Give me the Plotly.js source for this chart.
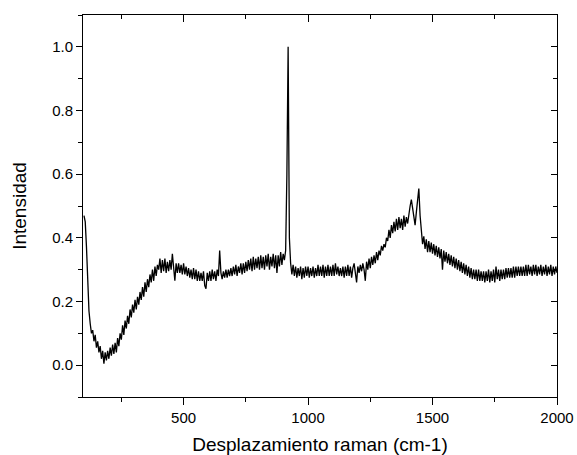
<!DOCTYPE html>
<html>
<head>
<meta charset="utf-8">
<script src="https://cdn.plot.ly/plotly-3.0.1.min.js"></script>
<style>html,body{margin:0;padding:0;background:#fff;}#chart{width:577px;height:455px;}</style>
</head>
<body>
<div id="chart"></div>
<script>
// Raman shift grid: starts at 100 cm-1, one reading every 5 cm-1 up to 2000 cm-1
const X_START = 100;
const X_STEP = 5;

// Intensity readings (normalised), 100 .. 2000 cm-1
const intensity = [
  // 100-195
  0.47, 0.45, 0.37, 0.26, 0.17, 0.13, 0.10, 0.11, 0.075, 0.095, 0.055, 0.075, 0.04, 0.06, 0.02, 0.045, 0.005, 0.04, 0.015, 0.045,
  // 200-295
  0.02, 0.055, 0.03, 0.065, 0.035, 0.07, 0.04, 0.085, 0.06, 0.10, 0.08, 0.125, 0.095, 0.14, 0.115, 0.155, 0.13, 0.175, 0.15, 0.19,
  // 300-395
  0.165, 0.205, 0.175, 0.215, 0.19, 0.23, 0.205, 0.245, 0.215, 0.26, 0.23, 0.27, 0.245, 0.285, 0.26, 0.30, 0.265, 0.31, 0.28, 0.315,
  // 400-495
  0.30, 0.335, 0.29, 0.33, 0.295, 0.335, 0.29, 0.325, 0.295, 0.33, 0.30, 0.35, 0.29, 0.265, 0.32, 0.29, 0.32, 0.29, 0.315, 0.285,
  // 500-595
  0.32, 0.285, 0.31, 0.28, 0.305, 0.275, 0.30, 0.27, 0.305, 0.27, 0.30, 0.265, 0.295, 0.265, 0.29, 0.265, 0.295, 0.25, 0.24, 0.29,
  // 600-695
  0.265, 0.295, 0.265, 0.30, 0.27, 0.295, 0.265, 0.30, 0.28, 0.36, 0.29, 0.27, 0.295, 0.275, 0.30, 0.275, 0.30, 0.28, 0.305, 0.28,
  // 700-795
  0.31, 0.285, 0.315, 0.28, 0.31, 0.29, 0.32, 0.285, 0.32, 0.29, 0.325, 0.295, 0.33, 0.30, 0.335, 0.295, 0.34, 0.30, 0.335, 0.305,
  // 800-895
  0.34, 0.30, 0.345, 0.305, 0.34, 0.30, 0.345, 0.31, 0.35, 0.30, 0.34, 0.31, 0.35, 0.305, 0.345, 0.29, 0.345, 0.31, 0.355, 0.315,
  // 900-995
  0.35, 0.33, 0.36, 0.60, 1.00, 0.40, 0.32, 0.285, 0.315, 0.28, 0.31, 0.275, 0.305, 0.28, 0.31, 0.27, 0.305, 0.275, 0.31, 0.28,
  // 1000-1095
  0.31, 0.275, 0.305, 0.28, 0.31, 0.275, 0.305, 0.28, 0.315, 0.28, 0.31, 0.28, 0.315, 0.275, 0.31, 0.28, 0.315, 0.28, 0.31, 0.28,
  // 1100-1195
  0.315, 0.28, 0.32, 0.285, 0.31, 0.28, 0.305, 0.28, 0.31, 0.275, 0.31, 0.28, 0.315, 0.28, 0.31, 0.275, 0.305, 0.32, 0.29, 0.26,
  // 1200-1295
  0.31, 0.29, 0.315, 0.295, 0.32, 0.30, 0.265, 0.325, 0.30, 0.335, 0.305, 0.34, 0.315, 0.345, 0.32, 0.355, 0.33, 0.36, 0.345, 0.375,
  // 1300-1395
  0.36, 0.38, 0.37, 0.40, 0.39, 0.425, 0.40, 0.44, 0.415, 0.45, 0.42, 0.46, 0.425, 0.465, 0.43, 0.46, 0.425, 0.47, 0.435, 0.465,
  // 1400-1495
  0.445, 0.48, 0.50, 0.52, 0.49, 0.46, 0.44, 0.48, 0.53, 0.555, 0.47, 0.41, 0.38, 0.405, 0.365, 0.395, 0.355, 0.39, 0.355, 0.385,
  // 1500-1595
  0.35, 0.38, 0.345, 0.375, 0.34, 0.37, 0.335, 0.365, 0.30, 0.36, 0.325, 0.355, 0.32, 0.35, 0.315, 0.345, 0.31, 0.34, 0.305, 0.335,
  // 1600-1695
  0.30, 0.33, 0.295, 0.325, 0.29, 0.32, 0.285, 0.315, 0.28, 0.31, 0.275, 0.305, 0.27, 0.30, 0.27, 0.30, 0.265, 0.30, 0.265, 0.295,
  // 1700-1795
  0.265, 0.295, 0.26, 0.295, 0.265, 0.30, 0.26, 0.295, 0.265, 0.30, 0.26, 0.31, 0.27, 0.30, 0.265, 0.30, 0.27, 0.30, 0.27, 0.305,
  // 1800-1895
  0.275, 0.305, 0.275, 0.305, 0.275, 0.31, 0.275, 0.31, 0.28, 0.31, 0.28, 0.31, 0.28, 0.31, 0.28, 0.315, 0.28, 0.315, 0.285, 0.31,
  // 1900-2000
  0.28, 0.315, 0.285, 0.315, 0.28, 0.31, 0.285, 0.315, 0.28, 0.31, 0.285, 0.315, 0.28, 0.31, 0.285, 0.315, 0.28, 0.31, 0.285, 0.31, 0.29
];

const xTitle = 'Desplazamiento raman (cm-1)';
const yTitle = 'Intensidad';
const xTicks = [500, 1000, 1500, 2000];
const yTicks = [0.0, 0.2, 0.4, 0.6, 0.8, 1.0];
const xRange = [96, 2000];
const yRange = [-0.1, 1.1];

const font = 'Arial, "Liberation Sans", sans-serif';

const traces = [
  {
    type: 'scatter', mode: 'lines',
    x0: X_START, dx: X_STEP, y: intensity,
    line: {color: '#000', width: 1.3},
    hoverinfo: 'skip'
  },
  {
    type: 'scatter', mode: 'lines', x: [], y: [],
    xaxis: 'x2', yaxis: 'y2', showlegend: false, hoverinfo: 'skip'
  }
];

const axCommon = {
  showgrid: false, zeroline: false,
  showline: true, linecolor: '#000', linewidth: 1,
  tickcolor: '#000', tickwidth: 1,
  tickfont: {family: font, size: 15, color: '#000'}
};

const layout = {
  width: 577, height: 455,
  margin: {l: 83, r: 20, t: 15, b: 58},
  paper_bgcolor: '#fff', plot_bgcolor: '#fff',
  showlegend: false,
  font: {family: font, color: '#000'},
  xaxis: Object.assign({}, axCommon, {
    range: xRange,
    tickmode: 'array', tickvals: xTicks,
    ticks: 'outside', ticklen: 7,
    minor: {dtick: 250, tick0: 0, ticks: 'outside', ticklen: 4, tickcolor: '#000', showgrid: false},
    title: {text: xTitle, font: {family: font, size: 19, color: '#000'}, standoff: 12}
  }),
  yaxis: Object.assign({}, axCommon, {
    range: yRange,
    tickmode: 'array', tickvals: yTicks, tickformat: '.1f',
    ticks: 'outside', ticklen: 6,
    minor: {dtick: 0.1, tick0: 0, ticks: 'outside', ticklen: 4, tickcolor: '#000', showgrid: false},
    title: {text: yTitle, font: {family: font, size: 19, color: '#000'}, standoff: 20}
  }),
  xaxis2: {
    overlaying: 'x', side: 'top', anchor: 'y2', range: xRange,
    showgrid: false, zeroline: false, showline: true, linecolor: '#000', linewidth: 1,
    showticklabels: false, tickmode: 'array', tickvals: xTicks,
    ticks: 'inside', ticklen: 7, tickcolor: '#000',
    minor: {dtick: 250, tick0: 0, ticks: 'inside', ticklen: 4, tickcolor: '#000', showgrid: false}
  },
  yaxis2: {
    overlaying: 'y', side: 'right', anchor: 'x2', range: yRange,
    showgrid: false, zeroline: false, showline: true, linecolor: '#000', linewidth: 1,
    showticklabels: false, tickmode: 'array', tickvals: yTicks,
    ticks: 'inside', ticklen: 6, tickcolor: '#000',
    minor: {dtick: 0.1, tick0: 0, ticks: 'inside', ticklen: 4, tickcolor: '#000', showgrid: false}
  }
};

Plotly.newPlot('chart', traces, layout, {staticPlot: true, displayModeBar: false});
</script>
</body>
</html>
